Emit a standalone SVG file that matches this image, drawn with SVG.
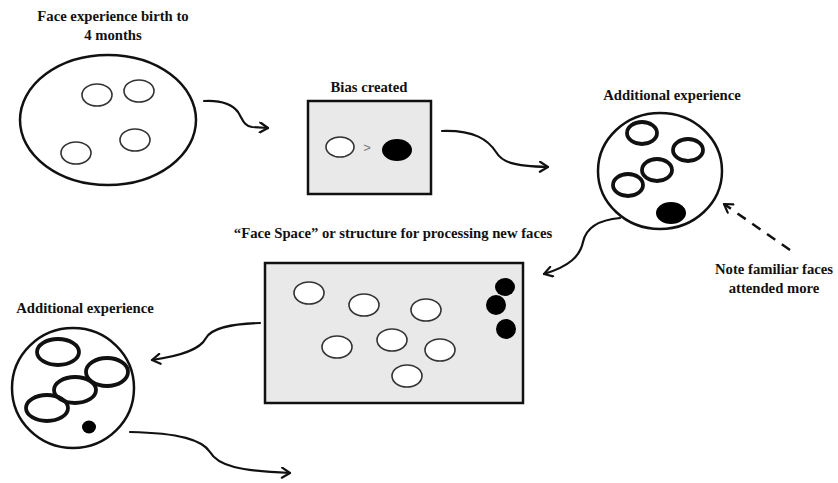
<svg xmlns="http://www.w3.org/2000/svg" width="838" height="483" viewBox="0 0 838 483">
<defs>
<style>
.t{font-family:"Liberation Serif","Times New Roman",serif;font-size:14.7px;font-weight:bold;fill:#111;text-anchor:middle}
.big{fill:#fff;stroke:#111;stroke-width:2.5}
.box{fill:#e9e9e9;stroke:#111;stroke-width:2.5}
.o{fill:#fff;stroke:#333;stroke-width:1.6}
.ot{fill:none;stroke:#111;stroke-width:3.8}
.f{fill:#000}
.c{fill:none;stroke:#111;stroke-width:2.2;stroke-linecap:round}
.d{fill:none;stroke:#111;stroke-width:2.5;stroke-dasharray:10 8}
</style>
<marker id="ah" viewBox="0 0 12 12" refX="10" refY="6" markerWidth="12" markerHeight="12" markerUnits="userSpaceOnUse" orient="auto">
<path d="M2,1 L10,6 L2,11" fill="none" stroke="#111" stroke-width="2.2" stroke-linecap="round" stroke-linejoin="round"/>
</marker>
</defs>
<rect width="838" height="483" fill="#fff"/>

<g id="node-birth">
<text class="t" x="113" y="21">Face experience birth to</text>
<text class="t" x="113" y="40">4 months</text>
<ellipse class="big" cx="108" cy="120" rx="88" ry="65"/>
<ellipse class="o" cx="97" cy="95" rx="15" ry="11"/>
<ellipse class="o" cx="139" cy="91" rx="15" ry="11"/>
<ellipse class="o" cx="135" cy="140" rx="15" ry="11"/>
<ellipse class="o" cx="76" cy="153" rx="15" ry="11"/>
</g>

<g id="node-bias">
<text class="t" x="369" y="92">Bias created</text>
<rect class="box" x="308" y="101" width="123" height="93"/>
<ellipse class="o" cx="340" cy="147" rx="14" ry="10"/>
<text x="367" y="152" style="font-family:'Liberation Sans',Arial,sans-serif;font-size:13px;fill:#777;text-anchor:middle">&gt;</text>
<ellipse class="f" cx="397" cy="150" rx="15" ry="11"/>
</g>

<g id="node-additional-1">
<text class="t" x="672" y="100">Additional experience</text>
<ellipse class="big" cx="660" cy="171" rx="62" ry="58"/>
<ellipse class="ot" cx="642" cy="133" rx="15" ry="11"/>
<ellipse class="ot" cx="688" cy="150" rx="15" ry="11"/>
<ellipse class="ot" cx="657" cy="170" rx="15" ry="11"/>
<ellipse class="ot" cx="628" cy="185" rx="15" ry="11"/>
<ellipse class="f" cx="671" cy="213" rx="15" ry="11"/>
</g>

<g id="node-note">
<text class="t" x="774" y="274">Note familiar faces</text>
<text class="t" x="774" y="293">attended more</text>
</g>

<g id="node-facespace">
<text class="t" x="393" y="238">“Face Space” or structure for processing new faces</text>
<rect class="box" x="265" y="263" width="258" height="140"/>
<ellipse class="o" cx="309" cy="293" rx="15" ry="11"/>
<ellipse class="o" cx="364" cy="305" rx="15" ry="11"/>
<ellipse class="o" cx="426" cy="310" rx="15" ry="11"/>
<ellipse class="o" cx="337" cy="347" rx="15" ry="11"/>
<ellipse class="o" cx="392" cy="340" rx="15" ry="11"/>
<ellipse class="o" cx="440" cy="350" rx="15" ry="11"/>
<ellipse class="o" cx="407" cy="376" rx="15" ry="11"/>
<ellipse class="f" cx="505" cy="287" rx="10" ry="9"/>
<ellipse class="f" cx="496" cy="305" rx="10" ry="10"/>
<ellipse class="f" cx="506" cy="329" rx="10" ry="10"/>
</g>

<g id="node-additional-2">
<text class="t" x="85" y="313">Additional experience</text>
<ellipse class="big" cx="73" cy="388" rx="61" ry="60"/>
<ellipse class="ot" cx="58" cy="352" rx="21" ry="13"/>
<ellipse class="ot" cx="107" cy="372" rx="21" ry="14"/>
<ellipse class="ot" cx="75" cy="390" rx="21" ry="13"/>
<ellipse class="ot" cx="47" cy="408" rx="21" ry="13"/>
<ellipse class="f" cx="89" cy="427" rx="7" ry="6.5"/>
</g>

<g id="connectors">
<path class="c" marker-end="url(#ah)" d="M204,101 C222,100 232,104 238,112 C243,120 244,126 252,127 L268,128"/>
<path class="c" marker-end="url(#ah)" d="M442,131 C475,130 488,140 496,152 C502,162 512,166 548,167"/>
<path class="c" marker-end="url(#ah)" d="M620,218 C597,220 586,228 583,242 C580,256 570,266 544,274"/>
<path class="d" marker-end="url(#ah)" d="M790,250 L724,204"/>
<path class="c" marker-end="url(#ah)" d="M260,323 C230,324 212,328 206,338 C200,350 180,356 152,360"/>
<path class="c" marker-end="url(#ah)" d="M130,432 C180,433 202,440 210,452 C218,466 240,471 290,473"/>
</g>
</svg>
